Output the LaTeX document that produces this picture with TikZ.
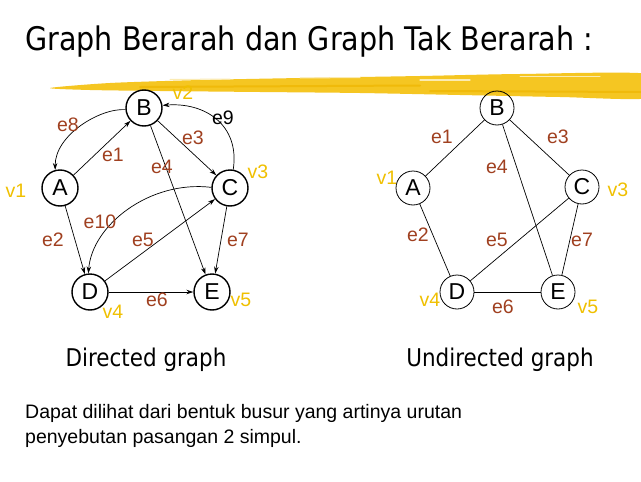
\documentclass[tikz,border=0pt]{standalone}
\usepackage{fontspec}
\setmainfont{Liberation Sans}
\newfontfamily\headfont[FakeStretch=0.88]{DejaVu Sans}
\usetikzlibrary{arrows.meta}
\definecolor{edgelbl}{RGB}{160,64,32}
\definecolor{vertlbl}{RGB}{240,192,0}
\definecolor{brush}{RGB}{245,198,34}
\definecolor{brushdark}{RGB}{240,186,10}
\begin{document}
\begin{tikzpicture}[x=1pt,y=-1pt,
  vtx/.style={circle,draw,line width=1.4pt,minimum size=36pt,inner sep=0pt,
    font=\fontsize{23}{23}\selectfont},
  uvtx/.style={vtx,line width=0.8pt,minimum size=34pt},
  elbl/.style={text=edgelbl,inner sep=0pt,font=\fontsize{19.5}{19.5}\selectfont},
  vlbl/.style={text=vertlbl,inner sep=0pt,font=\fontsize{19.5}{19.5}\selectfont},
  arc/.style={line width=0.7pt,-{Stealth[length=7pt,width=4.5pt]}},
  uedge/.style={line width=0.7pt}]
\useasboundingbox (0,0) rectangle (641,482);
\fill[white] (0,0) rectangle (641,482);

% heading
\node[anchor=base west,inner sep=0pt] (title) at (25,50)
  {\headfont\fontsize{32.5}{32.5}\selectfont Graph Berarah dan Graph Tak Berarah :};

% vertex name of the undirected B, tucked under the brush stroke
\node[vlbl] (rv2) at (505,84) {v2};

% yellow brush stroke
\fill[brush] plot[smooth cycle,tension=0.45] coordinates
  {(50,88) (110,83) (200,80) (300,78) (420,76) (520,74) (650,74)
   (650,98) (560,97) (460,95) (360,93) (260,92) (160,91) (90,90)};
\draw[brushdark,line width=2pt,line cap=round] (140,87) -- (420,85.5);
\draw[brushdark,line width=2pt,line cap=round] (430,91) -- (641,92);
\draw[brush!35!white,line width=1pt,line cap=round] (170,79.5) -- (230,79);
\draw[brush!35!white,line width=1pt,line cap=round] (300,78) -- (360,77.5);
\draw[brush!35!white,line width=1.2pt,line cap=round] (420,80) -- (470,80);
\draw[brush!35!white,line width=1pt,line cap=round] (520,76) -- (600,76);

% ---------- directed graph ----------
\node[vtx] (lA) at (60,188) {A};
\node[vtx] (lB) at (144,108) {B};
\node[vtx] (lC) at (230,188) {C};
\node[vtx] (lD) at (90,292) {D};
\node[vtx] (lE) at (212,292) {E};

\draw[arc] (lA) -- (lB);
\draw[arc] (lA) -- (lD);
\draw[arc] (lB) -- (lC);
\draw[arc] (lB) -- (lE);
\draw[arc] (lD) -- (lC);
\draw[arc] (lC) -- (lE);
\draw[arc] (lD) -- (lE);
\draw[arc] (lB.185) .. controls (100,108) and (55,135) .. (lA.105);
\draw[arc] (lC.80) .. controls (240,125) and (205,102) .. (lB.8);
\draw[arc] (lC.178) .. controls (150,180) and (92,225) .. (lD.95);

\node[elbl] (le1) at (113,155) {e1};
\node[elbl] (le2) at (53,240) {e2};
\node[elbl] (le3) at (193,138) {e3};
\node[elbl] (le4) at (162,167) {e4};
\node[elbl] (le5) at (143,240) {e5};
\node[elbl] (le6) at (157,300) {e6};
\node[elbl] (le7) at (238,240) {e7};
\node[elbl] (le8) at (68,125) {e8};
\node[inner sep=0pt,font=\fontsize{19.5}{19.5}\selectfont] (le9) at (223,118) {e9};
\node[elbl] (le10) at (100,222) {e10};

\node[vlbl] (lv1) at (16,191) {v1};
\node[vlbl] (lv2) at (183,93) {v2};
\node[vlbl] (lv3) at (258,172) {v3};
\node[vlbl] (lv4) at (113,312) {v4};
\node[vlbl] (lv5) at (241,300) {v5};

% ---------- undirected graph ----------
\node[uvtx] (rA) at (413,188) {A};
\node[uvtx] (rB) at (497,108) {B};
\node[uvtx] (rC) at (582,187) {C};
\node[uvtx] (rD) at (457,292) {D};
\node[uvtx] (rE) at (558,292) {E};

\draw[uedge] (rA) -- (rB);
\draw[uedge] (rB) -- (rC);
\draw[uedge] (rB) -- (rE);
\draw[uedge] (rA) -- (rD);
\draw[uedge] (rD) -- (rC);
\draw[uedge] (rC) -- (rE);
\draw[uedge] (rD) -- (rE);

\node[elbl] (re1) at (442,137) {e1};
\node[elbl] (re2) at (418,235) {e2};
\node[elbl] (re3) at (558,137) {e3};
\node[elbl] (re4) at (497,167) {e4};
\node[elbl] (re5) at (497,240) {e5};
\node[elbl] (re6) at (503,307) {e6};
\node[elbl] (re7) at (582,240) {e7};

\node[vlbl] (rv1) at (387,178) {v1};
\node[vlbl] (rv3) at (618,190) {v3};
\node[vlbl] (rv4) at (430,300) {v4};
\node[vlbl] (rv5) at (588,307) {v5};

% captions
\node[anchor=base,inner sep=0pt] (capL) at (146,366)
  {\headfont\fontsize{24.4}{24.4}\selectfont Directed graph};
\node[anchor=base,inner sep=0pt] (capR) at (500,366)
  {\headfont\fontsize{24.4}{24.4}\selectfont Undirected graph};

% note
\node[anchor=base west,inner sep=0pt,font=\fontsize{19.5}{19.5}\selectfont] (note1) at (25,418)
  {Dapat dilihat dari bentuk busur yang artinya urutan};
\node[anchor=base west,inner sep=0pt,font=\fontsize{19.5}{19.5}\selectfont] (note2) at (25,443)
  {penyebutan pasangan 2 simpul.};
\end{tikzpicture}
\end{document}
